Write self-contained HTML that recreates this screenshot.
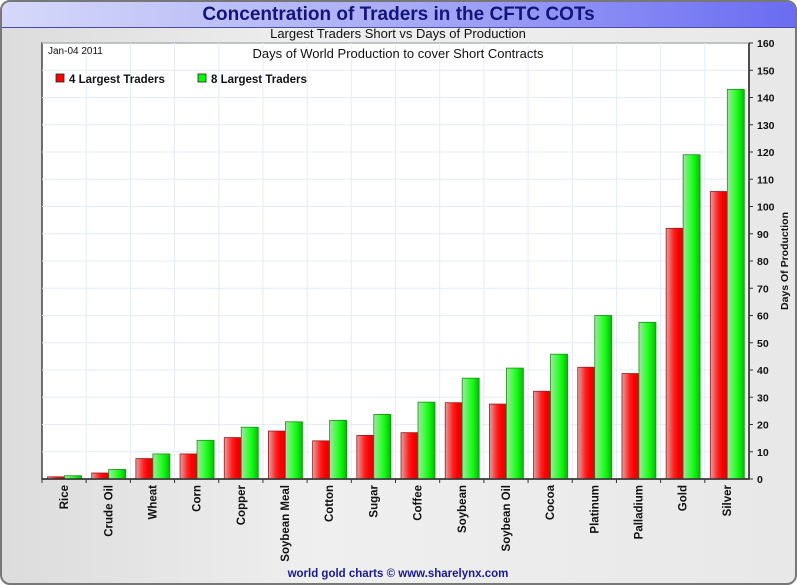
<!DOCTYPE html>
<html><head><meta charset="utf-8">
<style>
html,body{margin:0;padding:0;}
body{width:797px;height:585px;position:relative;overflow:hidden;background:#fff;font-family:"Liberation Sans",Arial,sans-serif;}
#frame{position:absolute;left:0;top:0;width:793px;height:581px;border:2px solid #777;border-radius:10px;background:linear-gradient(90deg,#dcdcdc 0%,#efefef 40%,#e8e8e8 100%);overflow:hidden;}
#titlebar{position:absolute;left:0;top:0;width:793px;height:25px;background:linear-gradient(90deg,#d6d8fa 0%,#a9acf5 50%,#6a6cf2 100%);border-bottom:1px solid #4a4ab0;}
#title{position:absolute;left:0;width:793px;top:2px;text-align:center;font-weight:bold;font-size:19px;color:#14147a;}
</style></head>
<body>
<div id="frame">
<div id="titlebar"><div id="title">Concentration of Traders in the CFTC COTs</div></div>
</div>
<svg id="chart" width="797" height="585" style="position:absolute;left:0;top:0">
<defs>
<linearGradient id="gRed" x1="0" x2="1" y1="0" y2="0">
<stop offset="0" stop-color="#e8a0a0"/><stop offset="0.45" stop-color="#ff2020"/><stop offset="0.7" stop-color="#ff0000"/><stop offset="1" stop-color="#c01010"/></linearGradient>
<linearGradient id="gGreen" x1="0" x2="1" y1="0" y2="0">
<stop offset="0" stop-color="#a0e8a0"/><stop offset="0.45" stop-color="#30ff30"/><stop offset="0.7" stop-color="#10f010"/><stop offset="1" stop-color="#10b010"/></linearGradient>
</defs>
</svg>
<script>
const categories=["Rice","Crude Oil","Wheat","Corn","Copper","Soybean Meal","Cotton","Sugar","Coffee","Soybean","Soybean Oil","Cocoa","Platinum","Palladium","Gold","Silver"];
const largest4=[0.8,2.2,7.5,9.2,15.2,17.6,14,16,17,28,27.5,32.2,41,38.7,92,105.5];
const largest8=[1.2,3.5,9.2,14.2,19,21,21.5,23.7,28.2,37,40.7,45.8,60,57.5,119,143];
const yTicks=[0,10,20,30,40,50,60,70,80,90,100,110,120,130,140,150,160];
const yMax=160;
const NS="http://www.w3.org/2000/svg";
const svg=document.getElementById('chart');
const L=42,R=749,T=43,B=479;
const bw=(R-L)/categories.length;
function y(v){return B-(v/yMax)*(B-T);}
function xc(i){return L+i*bw;}
function mk(tag,attrs,parent){const e=document.createElementNS(NS,tag);for(const k in attrs)e.setAttribute(k,attrs[k]);(parent||svg).appendChild(e);return e;}
// plot background
const bg=mk('rect',{x:L,y:T,width:R-L,height:B-T,fill:'#fff',stroke:'#444','stroke-width':1.5});


// grid
yTicks.forEach(t=>{
 const g=mk('line',{x1:L,x2:R,y1:y(t),y2:y(t),stroke:'#e4ecf6','stroke-width':1});
 
 
});
for(let i=1;i<categories.length;i++){
 const g=mk('line',{x1:xc(i),x2:xc(i),y1:T,y2:B,stroke:'#e4ecf6','stroke-width':1});
 
 
}
// texts in plot
function txt(s,attrs,name){const e=mk('text',attrs);e.textContent=s;return e;}
txt('Largest Traders Short vs Days of Production',{x:398,y:38,'text-anchor':'middle','font-size':13,fill:'#111'},'chart-subtitle');
txt('Days of World Production to cover Short Contracts',{x:398,y:58,'text-anchor':'middle','font-size':13,fill:'#111'},'chart-subtitle-2');
txt('Jan-04  2011',{x:48,y:54,'font-size':10,fill:'#111'},'date-label');
// legend
const l1=mk('rect',{x:56,y:74,width:8,height:8,fill:'#f00',stroke:'#222','stroke-width':0.8});


txt('4 Largest Traders',{x:69,y:83,'font-size':11.5,'font-weight':'bold',fill:'#111'},'legend-entry-4-largest');
const l2=mk('rect',{x:198,y:74,width:8,height:8,fill:'#0f0',stroke:'#222','stroke-width':0.8});


txt('8 Largest Traders',{x:211,y:83,'font-size':11.5,'font-weight':'bold',fill:'#111'},'legend-entry-8-largest');
// bars
categories.forEach((c,i)=>{
 const x0=xc(i);
 const r=mk('rect',{x:x0+5.5,y:y(largest4[i]),width:17,height:B-y(largest4[i]),fill:'url(#gRed)',stroke:'#a01818','stroke-width':0.8});
 
 
 const g=mk('rect',{x:x0+22.5,y:y(largest8[i]),width:17,height:B-y(largest8[i]),fill:'url(#gGreen)',stroke:'#189018','stroke-width':0.8});
 
 
 const tk=mk('line',{x1:x0,x2:x0,y1:B,y2:B+4,stroke:'#333'});
 
 
 const cx=x0+bw/2+4;
 txt(c,{x:cx,y:485,'text-anchor':'end','font-size':11.5,'font-weight':'bold',fill:'#111',transform:'rotate(-90 '+cx+' 485)'},'x-tick-label');
});
// axis lines
const ax=mk('line',{x1:L,x2:R,y1:B,y2:B,stroke:'#333','stroke-width':1.5});


const ay=mk('line',{x1:R,x2:R,y1:T,y2:B,stroke:'#333','stroke-width':1.5});


yTicks.forEach(t=>{
 const tk=mk('line',{x1:R,x2:R+4,y1:y(t),y2:y(t),stroke:'#333'});
 
 
 txt(String(t),{x:R+8,y:y(t)+4,'font-size':10.5,'font-weight':'bold',fill:'#111'},'y-tick-label');
});
txt('Days Of Production',{x:788,y:261,'text-anchor':'middle','font-size':10.5,'font-weight':'bold',fill:'#111',transform:'rotate(-90 788 261)'},'y-axis-title');
txt('world gold charts © www.sharelynx.com',{x:398,y:577,'text-anchor':'middle','font-size':11.5,'font-weight':'bold',fill:'#1a1a8a'},'footer-credit');
</script>
</body></html>
